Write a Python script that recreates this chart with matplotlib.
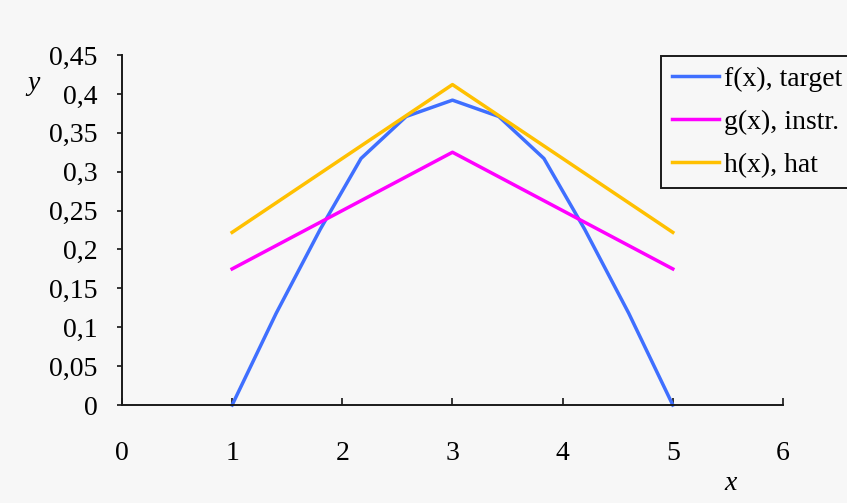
#!/usr/bin/env python3
"""Curvas f(x), g(x) y h(x) del muestreo por rechazo."""

import matplotlib

matplotlib.use("Agg")
import matplotlib.pyplot as plt


# datos
F_X = [1.0, 1.4, 1.8, 2.17, 2.58, 3.0, 3.42, 3.83, 4.2, 4.6, 5.0]
F_Y = [0.0, 0.118, 0.226, 0.317, 0.371, 0.392, 0.371, 0.317, 0.226, 0.118, 0.0]
G_X = [1.0, 3.0, 5.0]
G_Y = [0.175, 0.325, 0.175]
H_X = [1.0, 3.0, 5.0]
H_Y = [0.222, 0.412, 0.222]

SERIES_LABELS = ["f(x), target", "g(x), instr.", "h(x), hat"]
X_TICKS = [0, 1, 2, 3, 4, 5, 6]
Y_TICKS = [0, 0.05, 0.1, 0.15, 0.2, 0.25, 0.3, 0.35, 0.4, 0.45]
Y_TICK_LABELS = ["0", "0,05", "0,1", "0,15", "0,2", "0,25", "0,3", "0,35", "0,4", "0,45"]

COLORS = ["#3f6fff", "#ff00ff", "#ffc000"]
BACKGROUND = "#f7f7f7"
FONT = "Liberation Serif"
FONT_SIZE = 20


def main() -> int:
    plt.rcParams["font.family"] = [FONT, "DejaVu Serif"]
    plt.rcParams["font.size"] = FONT_SIZE

    figure = plt.figure(figsize=(8.47, 5.03), dpi=100, facecolor=BACKGROUND)
    axis = figure.add_axes((0.1440, 0.1948, 0.7804, 0.6958))
    axis.set_facecolor(BACKGROUND)

    series = [(F_X, F_Y), (G_X, G_Y), (H_X, H_Y)]
    for (xs, ys), color, label in zip(series, COLORS, SERIES_LABELS):
        axis.plot(xs, ys, color=color, linewidth=2.5, label=label,
                  solid_joinstyle="round", clip_on=False)

    axis.set_xlim(X_TICKS[0], X_TICKS[-1])
    axis.set_ylim(Y_TICKS[0], Y_TICKS[-1])
    axis.set_xticks(X_TICKS)
    axis.set_xticklabels([str(v) for v in X_TICKS])
    axis.set_yticks(Y_TICKS)
    axis.set_yticklabels(Y_TICK_LABELS)

    for side in ("top", "right"):
        axis.spines[side].set_visible(False)
    for side in ("left", "bottom"):
        axis.spines[side].set_linewidth(1.4)
        axis.spines[side].set_color("#1a1a1a")

    axis.tick_params(axis="x", direction="in", length=5, width=1.1,
                     pad=26, labelsize=FONT_SIZE)
    axis.tick_params(axis="y", direction="out", length=3.6, width=1.1,
                     pad=14, labelsize=FONT_SIZE)

    figure.text(33 / 847, 1 - 83 / 503, "y", style="italic",
                ha="center", va="center", fontsize=FONT_SIZE)
    figure.text(731 / 847, 1 - 483 / 503, "x", style="italic",
                ha="center", va="center", fontsize=FONT_SIZE)

    legend = figure.legend(
        loc="upper left",
        bbox_to_anchor=(661 / 847, 1 - 56 / 503),
        borderaxespad=0,
        frameon=True,
        fancybox=False,
        borderpad=0.38,
        labelspacing=0.63,
        handlelength=1.7,
        handletextpad=0.18,
        fontsize=FONT_SIZE,
    )
    frame = legend.get_frame()
    frame.set_edgecolor("#1a1a1a")
    frame.set_linewidth(1.4)
    frame.set_facecolor(BACKGROUND)
    frame.set_alpha(1)

    figure.savefig("out.png", dpi=100, facecolor=BACKGROUND)
    plt.close(figure)
    return 0


if __name__ == "__main__":
    raise SystemExit(main())
